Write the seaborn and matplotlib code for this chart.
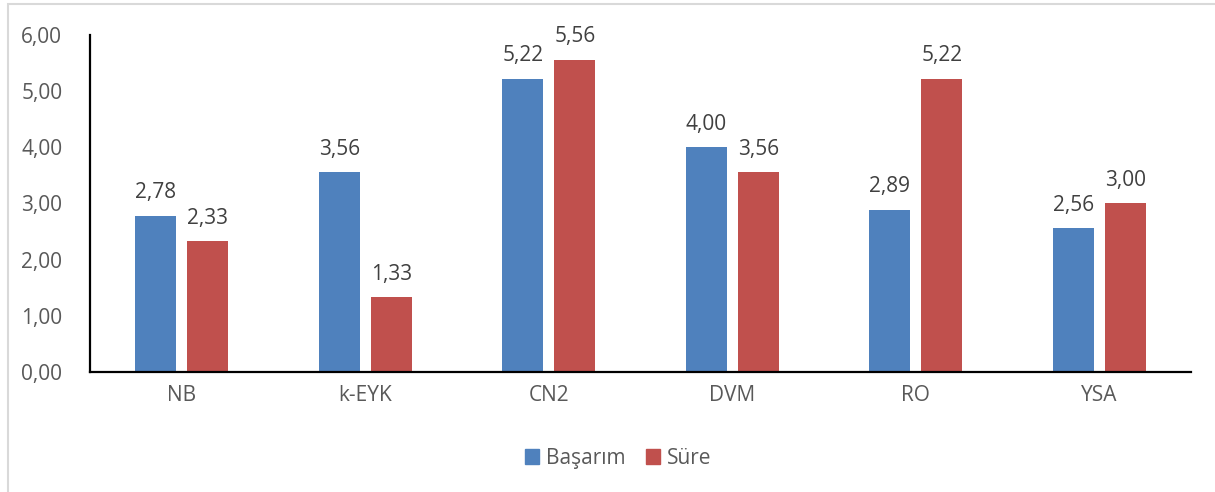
import matplotlib
matplotlib.use("Agg")
import matplotlib.pyplot as plt
import matplotlib.patches as mpatches
import seaborn as sns
import pandas as pd

categories = ["NB", "k-EYK", "CN2", "DVM", "RO", "YSA"]
basarim = [2.78, 3.56, 5.22, 4.00, 2.89, 2.56]
sure = [2.33, 1.33, 5.56, 3.56, 5.22, 3.00]
series_names = ["Başarım", "Süre"]
y_ticks = [0, 1, 2, 3, 4, 5, 6]

df = pd.DataFrame({
    "Yöntem": categories * 2,
    "Seri": [series_names[0]] * len(categories) + [series_names[1]] * len(categories),
    "Değer": basarim + sure,
})

sns.set_theme(style="white")
plt.rcParams["font.family"] = ["Open Sans", "DejaVu Sans"]

colors = {"Başarım": "#4F81BD", "Süre": "#C0504D"}

fig = plt.figure(figsize=(12.15, 4.92), dpi=100)
ax = fig.add_axes([0.0741, 0.2439, 0.9062, 0.685])

sns.barplot(data=df, x="Yöntem", y="Değer", hue="Seri", palette=colors,
            order=categories, hue_order=series_names,
            width=0.567, gap=0.213, dodge=True, legend=False, ax=ax,
            edgecolor="none", saturation=1)

def fmt(v):
    return f"{v:.2f}".replace(".", ",")

for cont in ax.containers:
    for bar in cont:
        h = bar.get_height()
        ax.annotate(fmt(h), (bar.get_x() + bar.get_width() / 2, h),
                    xytext=(0, 9), textcoords="offset points",
                    ha="center", va="bottom", fontsize=15, color="#404040")

ax.set_ylim(0, 6)
ax.set_xlim(-0.5, len(categories) - 0.5)
ax.set_yticks(y_ticks)
ax.set_yticklabels([fmt(t) for t in y_ticks])
ax.tick_params(axis="both", length=0, labelsize=15, colors="#595959")
ax.tick_params(axis="y", pad=20)
ax.tick_params(axis="x", pad=9)
ax.set_xlabel("")
ax.set_ylabel("")

for s in ["top", "right"]:
    ax.spines[s].set_visible(False)
for s in ["left", "bottom"]:
    ax.spines[s].set_color("black")
    ax.spines[s].set_linewidth(1.6)

handles = [mpatches.Patch(color=colors[n], label=n) for n in series_names]
fig.legend(handles=handles, loc="center", bbox_to_anchor=(0.5086, 0.068),
           ncol=2, frameon=False, fontsize=15, handlelength=0.7,
           handleheight=0.7, handletextpad=0.3, columnspacing=1.0,
           labelcolor="#595959")

# light outer frame
frame = mpatches.Rectangle((8 / 1215, -0.05), 1.1, (492 - 4) / 492 + 0.05,
                           transform=fig.transFigure, fill=False,
                           edgecolor="#D9D9D9", linewidth=1.5)
fig.patches.append(frame)

fig.savefig("out.png", dpi=100)
